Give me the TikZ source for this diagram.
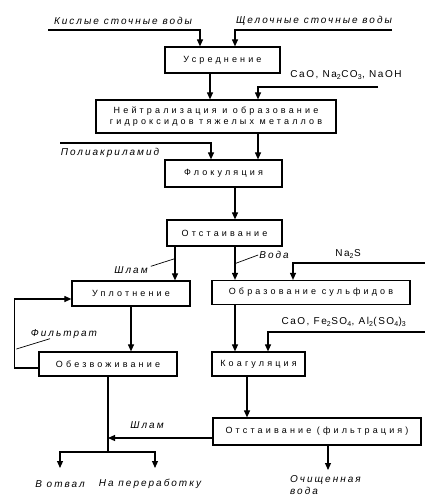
\documentclass[tikz,border=0pt]{standalone}
\usepackage{fontspec}
\setmainfont{Liberation Sans}
\newfontfamily\boxfont[LetterSpace=35]{Liberation Sans}
\newfontfamily\lblfont[LetterSpace=20]{Liberation Sans}
\newfontfamily\chemfont[LetterSpace=15]{Liberation Sans}
\usetikzlibrary{arrows.meta,calc}
\tikzset{
  stage/.style={draw, line width=1.2pt, inner sep=0pt, align=center,
    font={\boxfont\fontsize{9}{11.5}\selectfont}},
  flow/.style={line width=1.1pt, -{Triangle[length=7pt,width=6pt]}},
  pipe/.style={line width=1.1pt},
  lead/.style={line width=0.7pt},
  lbl/.style={inner sep=0pt, font={\lblfont\itshape\fontsize{10}{12}\selectfont}},
  chem/.style={inner sep=0pt, font={\chemfont\fontsize{10}{12}\selectfont}}
}
\begin{document}
\begin{tikzpicture}[x=1pt,y=-1pt]
\useasboundingbox (0,0) rectangle (425,500);

\node[stage, minimum width=115pt, minimum height=26pt] (usr) at (222.5,60) {Усреднение};
\node[stage, minimum width=240pt, minimum height=33pt] (neu) at (216,116.5) {Нейтрализация и образование\\гидроксидов тяжелых металлов};
\node[stage, minimum width=117pt, minimum height=27pt] (flo) at (223.5,173.5) {Флокуляция};
\node[stage, minimum width=115pt, minimum height=26pt] (ots) at (224.5,233) {Отстаивание};
\node[stage, minimum width=118pt, minimum height=25pt] (upl) at (131,293.5) {Уплотнение};
\node[stage, minimum width=198pt, minimum height=24pt] (sul) at (311,292.5) {Образование сульфидов};
\node[stage, minimum width=138pt, minimum height=24pt] (obe) at (108,364) {Обезвоживание};
\node[stage, minimum width=93pt, minimum height=24pt] (koa) at (258.5,364) {Коагуляция};
\node[stage, minimum width=208pt, minimum height=27pt] (fil) at (317,431.5) {Отстаивание (фильтрация)};

\node[lbl] (kwl) at (123,21) {Кислые сточные воды};
\node[lbl] (swl) at (314,21) {Щелочные сточные воды};
\coordinate (kw) at (48,30);
\coordinate (sw) at (392,30);
\draw[flow] (kw) -| ([xshift=-22.5pt]usr.north);
\draw[flow] (sw) -| ([xshift=12.5pt]usr.north);

\draw[flow] ([xshift=-12.5pt]usr.south) -- ([xshift=-12.5pt]usr.south |- neu.north);
\node[chem] (cao) at (346,75) {CaO, Na\textsubscript{2}CO\textsubscript{3}, NaOH};
\coordinate (caoin) at (378,87);
\draw[flow] (caoin) -| ([xshift=42pt]neu.north);

\draw[flow] ([xshift=42pt]neu.south) -- ([xshift=42pt]neu.south |- flo.north);
\node[lbl] (pl) at (110,153) {Полиакриламид};
\coordinate (pin) at (60,143);
\draw[flow] (pin) -| ([xshift=-12.5pt]flo.north);

\draw[flow] ([xshift=11.5pt]flo.south) -- ([xshift=11.5pt]flo.south |- ots.north);
\draw[flow] ([xshift=-49.5pt]ots.south) -- ([xshift=-49.5pt]ots.south |- upl.north);
\draw[flow] ([xshift=10.5pt]ots.south) -- ([xshift=10.5pt]ots.south |- sul.north);
\node[lbl] (shl1) at (131,270) {Шлам};
\draw[lead] ([xshift=3pt]shl1.north east) -- ($(ots.south)+(-49.5,12)$);
\node[lbl] (vod) at (274,255) {Вода};
\draw[lead] ([xshift=-1pt]vod.west) -- ($(ots.south)+(10.5,17)$);

\node[chem] (nas) at (348,254) {Na\textsubscript{2}S};
\coordinate (nasin) at (425,263);
\draw[flow] (nasin) -| ([xshift=-18pt]sul.north);

\draw[flow] (upl.south) -- (upl.south |- obe.north);
\draw[flow] ([xshift=-76pt]sul.south) -- ([xshift=-76pt]sul.south |- koa.north);
\node[chem] (cfa) at (344,322) {CaO, Fe\textsubscript{2}SO\textsubscript{4}, Al\textsubscript{2}(SO\textsubscript{4})\textsubscript{3}};
\coordinate (cfain) at (425,332);
\draw[flow] (cfain) -| ([xshift=9.5pt]koa.north);

\draw[flow] ([yshift=-4pt]obe.west) -- ++(-24,0) |- ([yshift=-5.5pt]upl.west);
\node[lbl] (fit) at (64,334) {Фильтрат};
\draw[lead] ($(obe.west)+(-22,-15)$) -- ([xshift=-14pt]fit.south);

\draw[flow] ([xshift=-11.5pt]koa.south) -- ([xshift=-11.5pt]koa.south |- fil.north);
\coordinate (split) at (108,452);
\draw[pipe] (obe.south) -- (split);
\draw[flow] ([yshift=-6.5pt]fil.west) -- ([yshift=-6.5pt]fil.west -| split);
\node[lbl] (shl2) at (147,425) {Шлам};

\coordinate (otvin) at (60,468);
\coordinate (perin) at (155,468);
\draw[flow] (split) -| (otvin);
\draw[flow] (split) -| (perin);
\node[lbl] (otv) at (60,484) {В отвал};
\node[lbl] (per) at (150,484) {На переработку};

\coordinate (cw) at (328,470);
\draw[flow] ([xshift=11pt]fil.south) -- (cw);
\node[lbl, align=left, anchor=north west] (cwl) at (290,475) {Очищенная\\вода};
\end{tikzpicture}
\end{document}
